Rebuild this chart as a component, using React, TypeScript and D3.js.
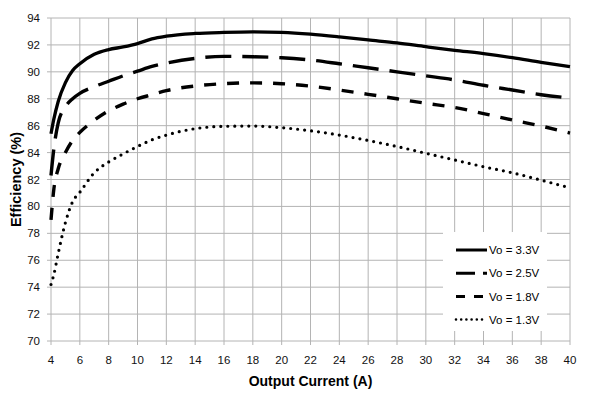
import React from "react";
import * as d3 from "d3";

const current = [4, 4.2, 4.5, 5, 5.5, 6, 7, 8, 9, 10, 11, 12, 14, 16, 18, 20, 22, 24, 26, 28, 30, 32, 34, 36, 38, 40];
const eff33 = [85.4, 86.5, 87.8, 89.2, 90.1, 90.6, 91.3, 91.65, 91.85, 92.1, 92.45, 92.65, 92.85, 92.93, 92.97, 92.93, 92.8, 92.6, 92.37, 92.15, 91.87, 91.6, 91.35, 91.05, 90.7, 90.38];
const eff25 = [82.3, 84.3, 86.2, 87.4, 88.0, 88.4, 88.9, 89.3, 89.7, 90.05, 90.4, 90.65, 91.0, 91.15, 91.12, 91.05, 90.88, 90.6, 90.3, 90.0, 89.7, 89.4, 89.0, 88.65, 88.3, 88.05];
const eff18 = [79.0, 81.3, 82.8, 84.0, 84.9, 85.5, 86.4, 87.1, 87.6, 88.0, 88.3, 88.6, 88.95, 89.12, 89.18, 89.12, 88.94, 88.65, 88.33, 88.0, 87.66, 87.35, 86.9, 86.42, 85.97, 85.45];
const eff13 = [74.2, 74.95, 76.5, 78.8, 80.35, 81.05, 82.5, 83.3, 83.9, 84.45, 84.95, 85.3, 85.78, 85.95, 85.97, 85.85, 85.62, 85.3, 84.9, 84.45, 83.95, 83.45, 82.95, 82.5, 81.95, 81.38];
const seriesNames = ["Vo = 3.3V", "Vo = 2.5V", "Vo = 1.8V", "Vo = 1.3V"];
const xTicks = d3.range(4, 41, 2);
const yTicks = d3.range(70, 95, 2);

const W = 600, H = 397;
const L = 51, R = 570, T = 18, B = 341;

export default function App() {
  const x = d3.scaleLinear().domain([4, 40]).range([L, R]);
  const y = d3.scaleLinear().domain([70, 94]).range([B, T]);
  const line = d3
    .line<number>()
    .x((_, i) => x(current[i]))
    .y((d) => y(d))
    .curve(d3.curveMonotoneX);

  const styles = [
    { data: eff33, dash: undefined, w: 3.3, cap: "butt", legDash: undefined, legW: 3 },
    { data: eff25, dash: "26,11", w: 3.4, cap: "butt", legDash: "19,8,4", legW: 3 },
    { data: eff18, dash: "12,11", w: 3.4, cap: "butt", legDash: "9,9", legW: 3 },
    { data: eff13, dash: "0,7", w: 3.2, cap: "round", legDash: "0,5.2", legW: 2.6 },
  ];
  const font = "'Liberation Sans', Arial, Helvetica, sans-serif";
  const grid = "#b4b4b4";
  const legX0 = 443, legX1 = 547, legY0 = 232, legY1 = 331;
  const legRows = [250, 273.3, 296.6, 319.5];

  return (
    <svg width={W} height={H} style={{ position: "absolute", left: 0, top: 0 }} fontFamily={font}>
      <rect x={0} y={0} width={W} height={H} fill="#fff" />
      {xTicks.map((t) => (
        <line key={"vx" + t} x1={x(t)} x2={x(t)} y1={T} y2={B + 4} stroke={grid} strokeWidth={1} />
      ))}
      {yTicks.map((t) => (
        <line key={"hy" + t} x1={L - 4} x2={R} y1={y(t)} y2={y(t)} stroke={grid} strokeWidth={1} />
      ))}
      {xTicks.map((t) => (
        <text key={"tx" + t} x={x(t)} y={363.5} fontSize={11.5} textAnchor="middle" fill="#111">
          {t}
        </text>
      ))}
      {yTicks.map((t) => (
        <text key={"ty" + t} x={40} y={y(t) + 4} fontSize={11.5} textAnchor="end" fill="#111">
          {t}
        </text>
      ))}
      <text x={(L + R) / 2} y={386} fontSize={14} fontWeight="bold" textAnchor="middle" fill="#000">
        Output Current (A)
      </text>
      <text
        transform={`translate(20.5,${(T + B) / 2}) rotate(-90)`}
        fontSize={14.5}
        fontWeight="bold"
        textAnchor="middle"
        fill="#000"
      >
        Efficiency (%)
      </text>
      {styles.map((s, i) => (
        <path
          key={"s" + i}
          d={line(s.data) || ""}
          fill="none"
          stroke="#000"
          strokeWidth={s.w}
          strokeDasharray={s.dash}
          strokeLinecap={s.cap as any}
          strokeLinejoin="round"
        />
      ))}
      <rect x={legX0} y={legY0} width={legX1 - legX0} height={legY1 - legY0} fill="#fff" />
      {styles.map((s, i) => (
        <g key={"l" + i}>
          <line
            x1={456}
            x2={487}
            y1={legRows[i]}
            y2={legRows[i]}
            stroke="#000"
            strokeWidth={s.legW}
            strokeDasharray={s.legDash}
            strokeLinecap={s.cap as any}
          />
          <text x={489} y={legRows[i] + 4} fontSize={11.5} fill="#000">
            {seriesNames[i]}
          </text>
        </g>
      ))}
    </svg>
  );
}
